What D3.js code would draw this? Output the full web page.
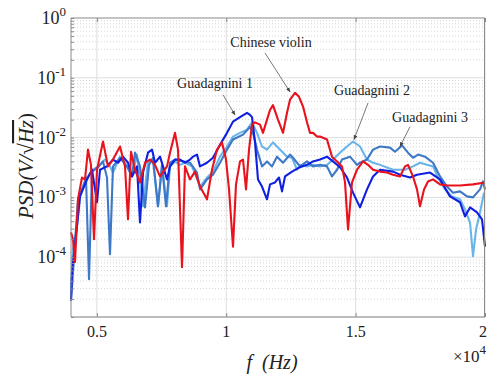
<!DOCTYPE html>
<html>
<head>
<meta charset="utf-8">
<script src="https://cdn.jsdelivr.net/npm/d3@7"></script>
<style>
  body { margin: 0; background: #fff; }
  svg text { font-family: "Liberation Serif", "Times New Roman", Times, "DejaVu Serif", serif; }
</style>
</head>
<body>
<figure id="psd" style="margin:0"></figure>
<script>
// frequency (Hz) / PSD pairs
const violinF = [4000,4077,4155,4271,4425,4541,4657,4773,4889,5005,5237,5430,5623,5894,6087,6203,6319,6474,6667,6860,7053,7247,7440,7710,7826,8020,8136,8290,8406,8599,8793,8986,9256,9450,9643,9836,9990,10107,10261,10377,10532,10648,10764,10880,10996,11112,11305,11420,11575,11691,11807,12000,12194,12348,12464,12658,12812,12967,13121,13237,13353,13508,13624,13894,14087,14281,14474,14590,14706,14860,15053,15285,15479,15672,15942,16213,16445,16715,16908,17024,17218,17372,17488,17643,17797,17991,18261,18532,19034,19537,20000];
const violinPsd = [2.6e-4,2.0e-4,8.3e-5,9.3e-4,2.15e-3,2.0e-3,6.3e-3,3.5e-3,2.0e-4,2.9e-3,8.6e-3,3.3e-3,4.3e-3,7.1e-3,3.3e-3,4.3e-4,5.8e-3,2.9e-3,1.78e-3,3.8e-3,4.3e-3,3.5e-3,2.24e-3,3.3e-3,5.6e-3,1.2e-2,6.3e-3,6.8e-5,3.3e-3,2.0e-3,2.7e-3,1.52e-3,9.3e-4,2.9e-3,6.3e-3,8.3e-3,4.3e-3,1.36e-3,1.5e-4,1.65e-3,4.0e-3,4.3e-3,1.36e-3,6.3e-3,1.65e-2,1.8e-2,1.65e-2,1.2e-2,2.0e-2,2.9e-2,3.5e-2,2.0e-2,1.2e-2,2.6e-2,4.3e-2,5.6e-2,4.8e-2,3.3e-2,1.8e-2,1.2e-2,1.2e-2,1.04e-2,1.04e-2,9.3e-3,4.8e-3,4.0e-3,3.3e-3,1.78e-3,2.9e-4,1.78e-3,2.9e-3,4.0e-3,3.5e-3,2.9e-3,2.7e-3,2.6e-3,2.4e-3,2.24e-3,3.3e-3,3.5e-3,2.24e-3,1.36e-3,7.1e-4,1.36e-3,1.85e-3,2.0e-3,1.65e-3,1.58e-3,1.58e-3,1.65e-3,1.78e-3];

const g1F = [4000,4039,4232,4348,4618,4812,5005,5121,5391,5623,5817,6010,6203,6358,6551,6667,6783,6976,7131,7247,7440,7556,7710,7826,8020,8213,8406,8599,8715,8870,8986,9256,9488,9759,10029,10261,10532,10802,10918,10996,11112,11227,11382,11575,11691,11884,12039,12155,12271,12542,12851,13121,13353,13624,13894,14126,14397,14667,14899,15169,15440,15672,15942,16445,16715,17102,17372,17875,18261,18648,19034,19227,19421,19691,19884,20000];
const g1Psd = [2.0e-5,5.6e-5,3.3e-4,1.04e-3,2.0e-3,2.9e-3,8.3e-4,2.9e-3,3.3e-3,4.3e-3,3.8e-3,4.8e-3,3.8e-3,2.24e-3,3.3e-3,3.8e-4,2.6e-3,5.6e-3,6.3e-3,3.8e-3,4.8e-3,3.3e-3,2.0e-3,3.3e-3,4.3e-3,4.3e-3,3.8e-3,4.3e-3,4.8e-3,5.2e-3,3.3e-3,3.8e-3,4.6e-3,7.6e-3,1.2e-2,1.85e-2,2.2e-2,2.6e-2,2.4e-2,2.2e-2,8.3e-3,2.0e-3,1.52e-3,9.3e-4,1.65e-3,1.78e-3,2.15e-3,1.26e-3,2.24e-3,2.7e-3,3.2e-3,3.5e-3,4.0e-3,4.3e-3,4.8e-3,4.0e-3,3.2e-3,2.15e-3,1.2e-3,6.8e-4,1.36e-3,2.24e-3,2.9e-3,2.7e-3,2.4e-3,2.15e-3,2.4e-3,2.6e-3,2.0e-3,1.04e-3,8.3e-4,4.8e-4,6.8e-4,5.6e-4,4.3e-4,1.5e-4];

const g2F = [4000,4077,4232,4348,4618,4850,5044,5314,5507,5623,5894,6164,6358,6551,6783,6976,7169,7362,7517,7710,7826,8020,8213,8406,8677,8986,9256,9488,9759,10029,10261,10532,10802,10996,11189,11382,11575,11807,12077,12348,12542,12735,12851,13121,13353,13624,13894,14126,14397,14667,14899,15169,15440,15672,15942,16445,16908,17218,17488,17991,18184,18454,18725,19034,19227,19421,19537,19653,19807,19961];
const g2Psd = [3.0e-5,1.36e-4,3.3e-4,1.04e-3,2.15e-3,2.9e-3,3.3e-3,4.3e-3,3.3e-3,2.6e-3,4.8e-3,3.3e-3,2.24e-3,5.2e-3,7.1e-4,4.0e-3,4.0e-3,7.1e-4,3.3e-3,7.1e-4,3.3e-3,4.0e-3,3.5e-3,3.8e-3,3.3e-3,1.52e-3,2.15e-3,2.7e-3,4.8e-3,7.1e-3,1.04e-2,1.2e-2,1.36e-2,1.8e-2,1.2e-2,7.1e-3,6.3e-3,8.3e-3,6.3e-3,4.8e-3,4.6e-3,2.9e-3,3.5e-3,3.3e-3,3.5e-3,3.3e-3,3.5e-3,4.3e-3,5.6e-3,7.1e-3,8.6e-3,7.1e-3,4.3e-3,3.8e-3,3.5e-3,2.9e-3,2.9e-3,3.3e-3,3.8e-3,3.3e-3,2.15e-3,1.36e-3,1.04e-3,9.3e-4,6.3e-4,3.8e-4,1.04e-4,2.9e-4,5.6e-4,1.2e-3];

const g3F = [4000,4077,4271,4464,4580,4696,4812,5044,5237,5391,5507,5623,5894,6164,6358,6474,6667,6860,7015,7169,7362,7517,7672,7826,8020,8329,8599,8870,8986,9256,9488,9759,10029,10261,10648,10918,11034,11189,11382,11575,11769,11962,12194,12464,12580,12851,13121,13353,13624,13894,14087,14281,14474,14783,15053,15169,15440,15672,15942,16329,16522,16793,17024,17218,17411,17682,17991,18261,18532,18764,19034,19305,19537,19807,19923,20000];
const g3Psd = [1.85e-5,5.6e-5,9.3e-4,1.52e-3,2.15e-3,4.3e-5,2.7e-3,3.2e-3,4.0e-3,2.15e-3,1.12e-4,3.3e-3,4.6e-3,3.3e-3,2.24e-3,5.6e-3,3.3e-3,6.8e-4,3.5e-3,4.6e-3,7.1e-4,3.5e-3,7.1e-4,3.8e-3,4.3e-3,4.0e-3,3.8e-3,2.6e-3,1.36e-3,2.0e-3,2.4e-3,3.8e-3,6.3e-3,9.3e-3,1.12e-2,1.5e-2,1.2e-2,6.3e-3,3.3e-3,4.0e-3,3.3e-3,4.8e-3,3.8e-3,5.2e-3,4.6e-3,3.3e-3,4.0e-3,3.3e-3,3.5e-3,3.3e-3,2.24e-3,2.9e-3,4.3e-3,4.8e-3,3.5e-3,3.8e-3,4.3e-3,6.3e-3,7.1e-3,6.8e-3,5.8e-3,7.4e-3,5.6e-3,4.6e-3,5.2e-3,4.8e-3,3.8e-3,2.24e-3,1.52e-3,1.2e-3,1.26e-3,1.04e-3,1.0e-3,1.36e-3,1.85e-3,1.36e-3];

const xTicks = [5000, 10000, 15000, 20000];
const xTickLabels = ["0.5", "1", "1.5", "2"];
const yTicks = [1e0, 1e-1, 1e-2, 1e-3, 1e-4];
const yTickExps = ["0", "-1", "-2", "-3", "-4"];

// label, text anchor [f, psd], arrow tail, arrow tip
const notes = [
  { label: "Chinese violin", at: [11730, 0.33], from: [11498, 0.26], to: [12464, 0.058] },
  { label: "Guadagnini 1", at: [9566, 0.068], from: [9875, 0.052], to: [10338, 0.024] },
  { label: "Guadagnini 2", at: [15633, 0.052], from: [15479, 0.038], to: [14938, 0.0093] },
  { label: "Guadagnini 3", at: [17875, 0.0185], from: [17102, 0.0152], to: [16715, 0.0071] }
];

const series = [
  { name: "Guadagnini 2", f: g2F, v: g2Psd, color: "#6ab4ea" },
  { name: "Guadagnini 3", f: g3F, v: g3Psd, color: "#3e78c6" },
  { name: "Guadagnini 1", f: g1F, v: g1Psd, color: "#1020e0" },
  { name: "Chinese violin", f: violinF, v: violinPsd, color: "#e8131c" }
];

const width = 487, height = 374;
const margin = { top: 18, right: 2, bottom: 57, left: 71 };
const serif = "'Liberation Serif', 'Times New Roman', Times, 'DejaVu Serif', serif";

const svg = d3.select("figure#psd").append("svg")
  .attr("width", width)
  .attr("height", height)
  .attr("font-family", serif);

const x = d3.scaleLinear().domain([4000, 20000]).range([margin.left, width - margin.right]);
const y = d3.scaleLog().domain([1e-5, 1]).range([height - margin.bottom, margin.top]);

// grid
const grid = svg.append("g");
y.ticks().forEach(t => {
  const decade = Math.abs(Math.log10(t) - Math.round(Math.log10(t))) < 1e-9;
  grid.append("line")
    .attr("x1", x(4000)).attr("x2", x(20000))
    .attr("y1", y(t)).attr("y2", y(t))
    .attr("stroke", decade ? "#dedede" : "#d6d6d6")
    .attr("stroke-width", 1)
    .attr("stroke-dasharray", decade ? null : "1,2");
});
xTicks.forEach(t => {
  grid.append("line")
    .attr("x1", x(t)).attr("x2", x(t))
    .attr("y1", y(1)).attr("y2", y(1e-5))
    .attr("stroke", "#dedede");
});

// curves
const line = d3.line()
  .x(d => x(d[0]))
  .y(d => y(d[1]));

series.forEach(s => {
  svg.append("path")
    .datum(s.f.map((f, i) => [f, s.v[i]]))
    .attr("d", line)
    .attr("fill", "none")
    .attr("stroke", s.color)
    .attr("stroke-width", 2.1)
    .attr("stroke-linejoin", "round");
});

// axes box
const frame = svg.append("g").attr("stroke", "#8a8a8a").attr("fill", "none");
frame.append("line").attr("x1", x(4000)).attr("x2", x(20000)).attr("y1", y(1)).attr("y2", y(1))
  .attr("stroke", "#b4b4b4").attr("stroke-width", 1.5);
frame.append("line").attr("x1", x(4000)).attr("x2", x(20000)).attr("y1", y(1e-5)).attr("y2", y(1e-5));
frame.append("line").attr("x1", x(4000)).attr("x2", x(4000)).attr("y1", y(1)).attr("y2", y(1e-5));
frame.append("line").attr("x1", x(20000) - 0.5).attr("x2", x(20000) - 0.5).attr("y1", y(1)).attr("y2", y(1e-5));

// ticks (inward)
svg.append("g")
  .attr("transform", "translate(" + margin.left + ",0)")
  .call(d3.axisLeft(y).tickValues(y.ticks()).tickSize(-3).tickFormat(""))
  .call(g => g.select(".domain").remove())
  .call(g => g.selectAll(".tick line").attr("stroke", "#8a8a8a"));

svg.append("g")
  .attr("transform", "translate(0," + y(1e-5) + ")")
  .call(d3.axisBottom(x).tickValues(xTicks).tickSize(-4).tickFormat(""))
  .call(g => g.select(".domain").remove())
  .call(g => g.selectAll(".tick line").attr("stroke", "#8a8a8a"));
svg.append("g")
  .attr("transform", "translate(0," + y(1) + ")")
  .call(d3.axisTop(x).tickValues(xTicks).tickSize(-4).tickFormat(""))
  .call(g => g.select(".domain").remove())
  .call(g => g.selectAll(".tick line").attr("stroke", "#8a8a8a"));

// tick labels
xTicks.forEach((t, i) => {
  const last = i === xTicks.length - 1;
  svg.append("text")
    .attr("x", last ? width : x(t)).attr("y", 337)
    .attr("text-anchor", last ? "end" : "middle")
    .attr("font-size", 16)
    .attr("fill", "#222")
    .text(xTickLabels[i]);
});

yTicks.forEach((t, i) => {
  const txt = svg.append("text")
    .attr("x", 66).attr("y", y(t) + 6)
    .attr("text-anchor", "end")
    .attr("font-size", 18)
    .attr("fill", "#222");
  txt.append("tspan").text("10");
  txt.append("tspan").attr("dy", -8).attr("font-size", 13).text(yTickExps[i]);
});

// ×10^4 multiplier
const mult = svg.append("text")
  .attr("x", 486).attr("y", 362)
  .attr("text-anchor", "end")
  .attr("font-size", 17)
  .attr("fill", "#222");
mult.append("tspan").text("×10");
mult.append("tspan").attr("dy", -8).attr("font-size", 13).text("4");

// axis titles
svg.append("text")
  .attr("x", 272).attr("y", 369)
  .attr("text-anchor", "middle")
  .attr("font-size", 20)
  .attr("font-style", "italic")
  .attr("fill", "#222")
  .attr("xml:space", "preserve")
  .text("f  (Hz)");

const yl = svg.append("text")
  .attr("transform", "translate(33,166) rotate(-90)")
  .attr("text-anchor", "middle")
  .attr("font-size", 21)
  .attr("font-style", "italic")
  .attr("fill", "#222");
yl.append("tspan").text("PSD(V/");
yl.append("tspan").attr("font-style", "normal").text("√");
yl.append("tspan").style("text-decoration", "overline").text("Hz");
yl.append("tspan").attr("font-style", "normal").text(")");

// annotations
svg.append("defs").append("marker")
  .attr("id", "head")
  .attr("viewBox", "0 0 10 10")
  .attr("refX", 9).attr("refY", 5)
  .attr("markerWidth", 6).attr("markerHeight", 6)
  .attr("orient", "auto")
  .append("path").attr("d", "M0,1 L10,5 L0,9 Z").attr("fill", "#444");

notes.forEach(n => {
  svg.append("line")
    .attr("x1", x(n.from[0])).attr("y1", y(n.from[1]))
    .attr("x2", x(n.to[0])).attr("y2", y(n.to[1]))
    .attr("stroke", "#555").attr("stroke-width", 0.8)
    .attr("marker-end", "url(#head)");
  svg.append("text")
    .attr("x", x(n.at[0])).attr("y", y(n.at[1]))
    .attr("text-anchor", "middle")
    .attr("font-size", 14)
    .attr("fill", "#222")
    .text(n.label);
});
</script>
</body>
</html>
